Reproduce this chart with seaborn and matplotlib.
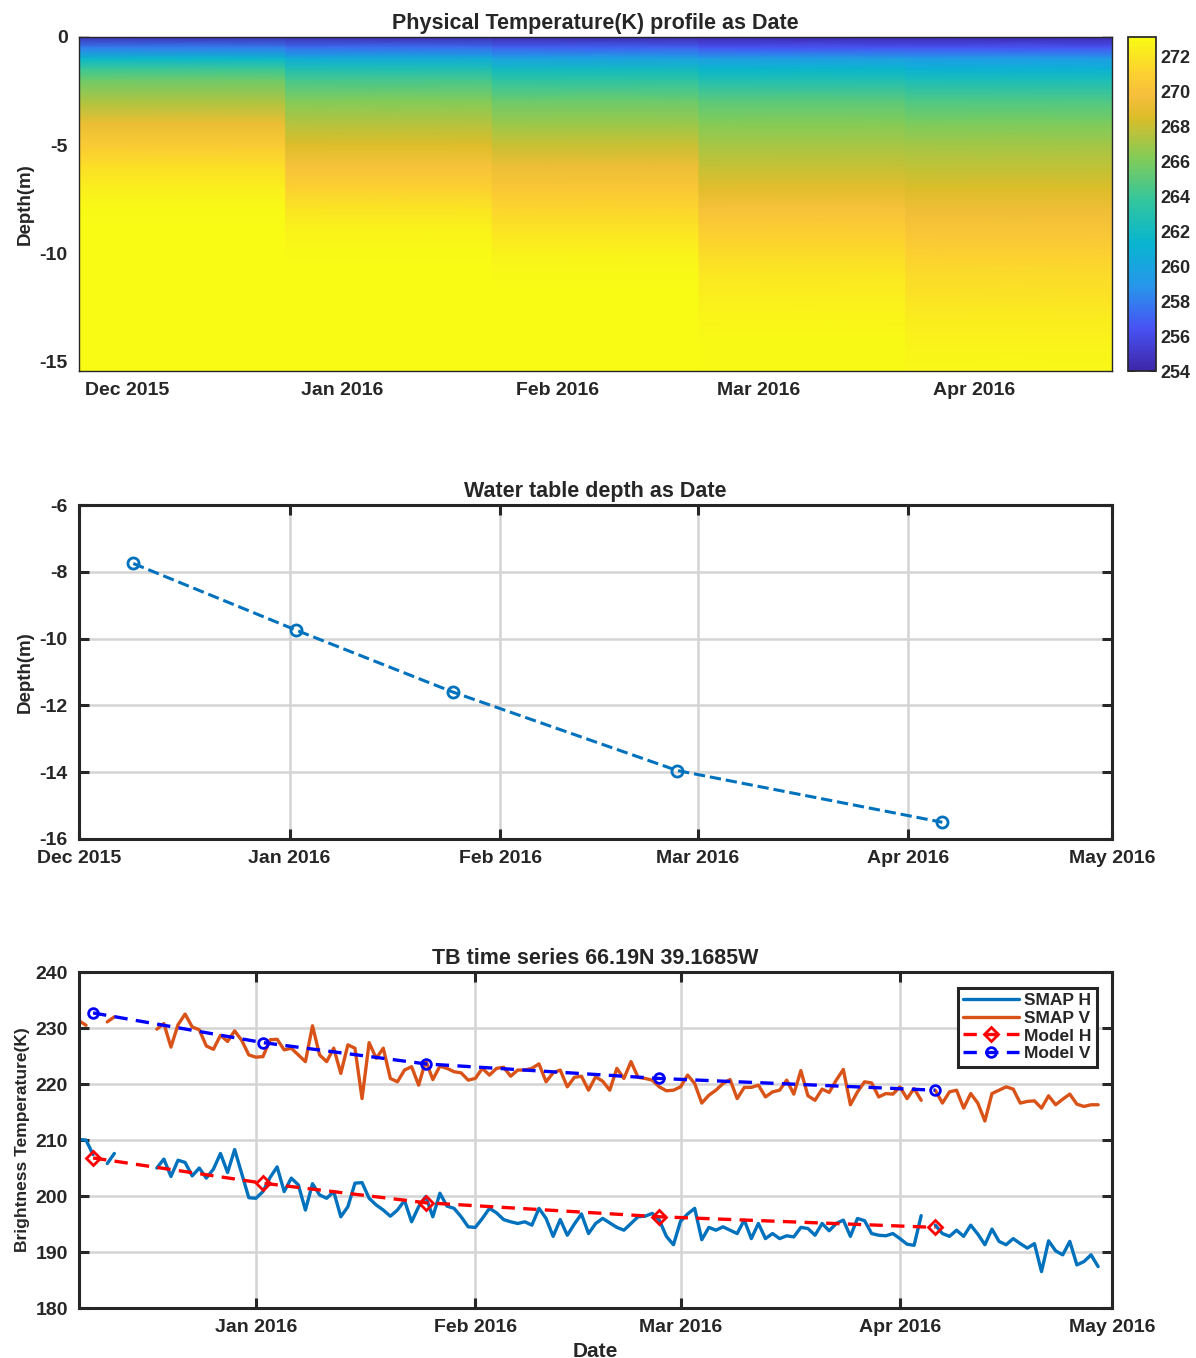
import numpy as np
import pandas as pd
import matplotlib
matplotlib.use("Agg")
import matplotlib.pyplot as plt
import matplotlib.dates as mdates
from matplotlib.colors import LinearSegmentedColormap
from matplotlib.lines import Line2D
import seaborn as sns

# dates of the model runs / profiles
model_dates = ["2015-12-09", "2016-01-02", "2016-01-25", "2016-02-27", "2016-04-06"]
water_table = [-7.75, -9.75, -11.6, -13.95, -15.5]
model_h = [206.8, 202.3, 198.8, 196.3, 194.4]
model_v = [232.7, 227.4, 223.6, 221.0, 218.9]

# temperature profiles (K) at each depth level, one list per model date
depth_levels = [0, -0.5, -1, -1.5, -2, -3, -4, -5, -6, -7, -8, -9, -10, -11, -12, -13, -14, -15.5]
temp_dec = [254.5, 258.0, 261.5, 264.0, 265.5, 267.3, 269.2, 270.5, 271.7, 272.5, 273.0, 273.1, 273.1, 273.1, 273.1, 273.1, 273.1, 273.1]
temp_jan = [254.3, 257.5, 260.5, 262.8, 264.3, 266.2, 267.5, 268.6, 270.0, 271.0, 272.0, 272.7, 273.0, 273.1, 273.1, 273.1, 273.1, 273.1]
temp_feb = [254.2, 257.0, 259.8, 262.0, 263.5, 265.5, 266.8, 268.0, 269.3, 270.4, 271.2, 272.0, 272.6, 273.0, 273.1, 273.1, 273.1, 273.1]
temp_mar = [254.2, 256.5, 259.5, 261.5, 262.8, 265.0, 266.2, 267.1, 267.9, 268.8, 270.0, 270.8, 271.5, 272.1, 272.5, 272.8, 273.0, 273.0]
temp_apr = [254.2, 256.5, 259.3, 261.0, 262.5, 264.6, 266.0, 267.0, 267.8, 268.5, 269.4, 270.2, 270.9, 271.5, 271.9, 272.3, 272.6, 272.9]

# daily SMAP brightness temperatures starting 2015-12-07 (None = no overpass)
smap_start = "2015-12-07"
smap_h = [
    210.1, 210.0, 207.4, None, 205.8, 207.6, None, None, None, None, None,
    205.0, 206.6, 203.5, 206.4, 206.0, 203.6, 205.0, 203.2, 204.8, 207.6,
    204.2, 208.3, 204.0, 199.7, 199.6, 200.8, 203.3, 205.2, 200.8, 203.2,
    202.0, 197.5, 202.2, 200.2, 199.6, 200.8, 196.3, 198.1, 202.3, 202.4,
    199.6, 198.4, 197.5, 196.4, 197.5, 199.2, 195.4, 198.1, 199.9, 196.3,
    200.5, 198.2, 197.8, 196.3, 194.5, 194.4, 196.0, 197.8, 197.0, 195.8,
    195.4, 195.1, 195.4, 194.8, 197.8, 196.0, 192.8, 195.8, 193.0, 195.0,
    196.8, 193.3, 195.1, 196.0, 195.2, 194.4, 193.9, 195.1, 196.3, 196.4,
    196.9, 195.7, 192.8, 191.3, 195.5, 196.8, 197.8, 192.2, 194.4, 193.9,
    194.5, 193.9, 193.3, 195.7, 192.4, 195.1, 192.4, 193.3, 192.4, 192.9,
    192.7, 194.4, 194.2, 193.0, 195.1, 193.8, 195.1, 195.7, 192.8, 196.0,
    195.6, 193.3, 193.0, 192.9, 193.3, 192.4, 191.4, 191.2, 196.5, None,
    194.8, 193.3, 192.8, 193.9, 192.8, 194.8, 193.2, 191.3, 194.1, 191.9,
    191.3, 192.4, 191.5, 190.7, 191.5, 186.5, 192.0, 190.2, 189.5, 191.9,
    187.7, 188.3, 189.5, 187.4,
]
smap_v = [
    231.3, 230.5, None, None, 231.1, 232.0, None, None, None, None, None,
    229.8, 230.8, 226.6, 230.6, 232.5, 230.2, 229.7, 226.8, 226.2, 228.7,
    227.6, 229.5, 227.8, 225.2, 224.8, 224.9, 227.9, 228.0, 226.1, 226.4,
    225.2, 224.0, 230.4, 225.2, 224.0, 226.4, 221.9, 227.0, 226.4, 217.4,
    227.4, 224.6, 226.4, 221.0, 220.4, 222.5, 223.1, 219.8, 224.2, 220.8,
    223.2, 222.8, 222.2, 222.0, 220.7, 221.0, 222.8, 221.6, 222.8, 223.0,
    221.4, 222.5, 222.5, 222.8, 223.6, 220.4, 222.0, 222.5, 219.5, 221.2,
    221.4, 218.9, 221.3, 220.5, 218.9, 222.8, 221.0, 224.0, 221.2, 221.0,
    220.7, 219.5, 218.8, 218.9, 219.5, 221.6, 220.1, 216.6, 218.0, 218.9,
    220.1, 220.8, 217.4, 219.4, 219.4, 219.8, 217.7, 218.6, 218.9, 220.7,
    218.2, 222.4, 217.9, 217.1, 219.1, 218.5, 220.7, 222.6, 216.3, 218.6,
    220.4, 220.2, 217.7, 218.3, 218.2, 219.5, 217.4, 219.2, 217.1, None,
    218.9, 216.6, 218.6, 218.9, 215.7, 218.3, 216.6, 213.4, 218.3, 218.9,
    219.5, 219.1, 216.6, 216.9, 217.0, 215.7, 217.9, 216.3, 217.3, 218.2,
    216.4, 216.0, 216.3, 216.3,
]

# MATLAB parula, approximated by anchor colours
parula = LinearSegmentedColormap.from_list("parula", [
    (0.000, (0.2422, 0.1504, 0.6603)),
    (0.127, (0.2810, 0.3228, 0.9579)),
    (0.254, (0.1540, 0.5902, 0.9218)),
    (0.381, (0.0297, 0.7082, 0.8163)),
    (0.508, (0.1938, 0.7758, 0.6251)),
    (0.635, (0.5044, 0.7993, 0.3480)),
    (0.762, (0.8634, 0.7406, 0.1596)),
    (0.825, (0.9649, 0.7469, 0.2385)),
    (0.889, (0.9892, 0.8136, 0.1885)),
    (1.000, (0.9769, 0.9839, 0.0805)),
])

sns.set_theme(style="white")
plt.rcParams["font.family"] = ["Liberation Sans", "DejaVu Sans"]
plt.rcParams.update({
    "font.weight": "bold",
    "axes.labelweight": "bold",
    "axes.titleweight": "bold",
    "axes.unicode_minus": False,
    "text.color": "#262626",
    "axes.labelcolor": "#262626",
})

DARK = "#262626"
GRID = "#d4d4d4"
TITLE_FS = 15.5
month_fmt = mdates.DateFormatter("%b %Y")


def matlab_box(ax, lw):
    for s in ax.spines.values():
        s.set_visible(True)
        s.set_linewidth(lw)
        s.set_color(DARK)
    ax.tick_params(which="both", direction="in", top=True, right=True,
                   bottom=True, left=True, length=7, width=lw,
                   labelsize=14, colors=DARK, pad=8)


fig = plt.figure(figsize=(11.96, 13.58), dpi=100)

# ---- panel 1: temperature profile ----
ax1 = fig.add_axes([0.066, 0.7268, 0.864, 0.246])
prof = np.array([temp_dec, temp_jan, temp_feb, temp_mar, temp_apr]).T
t_first = mdates.date2num(pd.Timestamp(model_dates[0]))
t_last = mdates.date2num(pd.Timestamp(model_dates[-1]))
step = (t_last - t_first) / (len(model_dates) - 1)
edges = t_first - step / 2 + step * np.arange(len(model_dates) + 1)
xs = np.repeat(edges, 2)[1:-1]
mesh = ax1.pcolormesh(xs, depth_levels, np.repeat(prof, 2, axis=1),
                      shading="gouraud", cmap=parula, vmin=254, vmax=273.1)
ax1.set_xlim(edges[0], edges[-1])
ax1.set_ylim(-15.45, 0)
ax1.set_yticks([-15, -10, -5, 0])
ax1.xaxis.set_major_locator(mdates.MonthLocator())
ax1.xaxis.set_major_formatter(month_fmt)
matlab_box(ax1, 1.0)
ax1.set_ylabel("Depth(m)", fontsize=13.5)
ax1.set_title("Physical Temperature(K) profile as Date", fontsize=TITLE_FS)

cax = fig.add_axes([0.943, 0.7268, 0.0234, 0.246])
cb = fig.colorbar(mesh, cax=cax, ticks=range(254, 273, 2))
cb.outline.set_edgecolor(DARK)
cax.tick_params(direction="in", left=True, right=True, length=5,
                labelsize=13, colors=DARK)

# ---- panel 2: water table depth ----
ax2 = fig.add_axes([0.066, 0.3822, 0.864, 0.2459])
wt = pd.DataFrame({"date": pd.to_datetime(model_dates), "depth": water_table})
sns.lineplot(data=wt, x="date", y="depth", ax=ax2, color="#0072BD", lw=2.2,
             linestyle="--", marker="o", markersize=8, markerfacecolor="none",
             markeredgecolor="#0072BD", markeredgewidth=2)
ax2.set_xlim(pd.Timestamp("2015-12-01"), pd.Timestamp("2016-05-01"))
ax2.set_ylim(-16, -6)
ax2.set_yticks(range(-16, -5, 2))
ax2.xaxis.set_major_locator(mdates.MonthLocator())
ax2.xaxis.set_major_formatter(month_fmt)
ax2.grid(True, color=GRID, lw=1.8)
matlab_box(ax2, 2.2)
ax2.set_xlabel("")
ax2.set_ylabel("Depth(m)", fontsize=13.5)
ax2.set_title("Water table depth as Date", fontsize=TITLE_FS)

# ---- panel 3: brightness temperature time series ----
ax3 = fig.add_axes([0.066, 0.0368, 0.864, 0.2474])
days = pd.date_range(smap_start, periods=len(smap_h), freq="D")
frames = []
for name, vals in [("SMAP H", smap_h), ("SMAP V", smap_v)]:
    s = pd.Series(vals, index=days, dtype=float)
    seg = s.isna().cumsum()
    frames.append(pd.DataFrame({"date": days, "tb": s.values,
                                "series": name, "seg": seg.values}).dropna())
smap = pd.concat(frames, ignore_index=True)
sns.lineplot(data=smap, x="date", y="tb", hue="series", units="seg",
             estimator=None, palette={"SMAP H": "#0072BD", "SMAP V": "#D95319"},
             lw=2.4, legend=False, ax=ax3)

mdl = pd.DataFrame({"date": pd.to_datetime(model_dates), "h": model_h, "v": model_v})
sns.lineplot(data=mdl, x="date", y="h", ax=ax3, color="red", lw=2.4,
             linestyle=(0, (4, 2.5)), marker="D", markersize=7,
             markerfacecolor="none", markeredgecolor="red", markeredgewidth=2)
sns.lineplot(data=mdl, x="date", y="v", ax=ax3, color="blue", lw=2.4,
             linestyle=(0, (4, 2.5)), marker="o", markersize=7,
             markerfacecolor="none", markeredgecolor="blue", markeredgewidth=2)

ax3.set_xlim(pd.Timestamp(smap_start), pd.Timestamp("2016-05-01"))
ax3.set_ylim(180, 240)
ax3.set_yticks(range(180, 241, 10))
ax3.xaxis.set_major_locator(mdates.MonthLocator())
ax3.xaxis.set_major_formatter(month_fmt)
ax3.grid(True, color=GRID, lw=1.8)
matlab_box(ax3, 2.2)
ax3.set_xlabel("Date", fontsize=15, labelpad=4)
ax3.set_ylabel("Brightness Temperature(K)", fontsize=12.5)
ax3.set_title("TB time series 66.19N 39.1685W", fontsize=TITLE_FS)

handles = [
    Line2D([], [], color="#0072BD", lw=2.4),
    Line2D([], [], color="#D95319", lw=2.4),
    Line2D([], [], color="red", lw=2.4, linestyle=(0, (4, 2.5)), marker="D",
           markersize=7, markerfacecolor="none", markeredgewidth=2),
    Line2D([], [], color="blue", lw=2.4, linestyle=(0, (4, 2.5)), marker="o",
           markersize=7, markerfacecolor="none", markeredgewidth=2),
]
leg = ax3.legend(handles, ["SMAP H", "SMAP V", "Model H", "Model V"],
                 loc="upper right", fontsize=12.5, fancybox=False,
                 framealpha=1, edgecolor=DARK, handlelength=3.2,
                 borderpad=0.3, labelspacing=0.15, handletextpad=0.3,
                 borderaxespad=0.9)
leg.get_frame().set_linewidth(2.2)

fig.savefig("out.png", dpi=100)
